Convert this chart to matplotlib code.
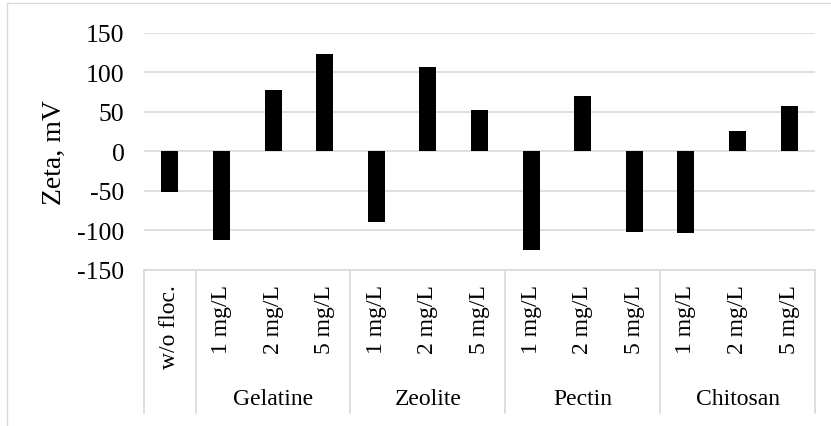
import numpy as np
import matplotlib
matplotlib.use("Agg")
import matplotlib.pyplot as plt
import matplotlib.transforms as mtransforms
from matplotlib.patches import Rectangle

plt.rcParams['font.family'] = ['Liberation Serif', 'DejaVu Serif']
plt.rcParams['axes.unicode_minus'] = False

# data
labels = ['w/o floc.', '1 mg/L', '2 mg/L', '5 mg/L', '1 mg/L', '2 mg/L', '5 mg/L',
          '1 mg/L', '2 mg/L', '5 mg/L', '1 mg/L', '2 mg/L', '5 mg/L']
zeta = [-52, -113, 78, 123, -90, 106, 52, -125, 70, -102, -103, 25, 57]
groups = ['Gelatine', 'Zeolite', 'Pectin', 'Chitosan']
group_start = [1, 4, 7, 10]
group_size = [3, 3, 3, 3]
yticks = [-150, -100, -50, 0, 50, 100, 150]

W, H = 831, 427
fig = plt.figure(figsize=(W / 100, H / 100), dpi=100)

# outer chart border (Excel style), right/bottom run off the image
fig.patches.append(Rectangle((7 / W, -0.05), 1.1, 1.05 - 4 / H, transform=fig.transFigure,
                             fill=False, edgecolor='#d9d9d9', linewidth=1.0))

left, right, top, bot = 144, 815, 33.7, 270.7
ax = fig.add_axes([left / W, 1 - bot / H, (right - left) / W, (bot - top) / H])

x = np.arange(len(zeta))
ax.bar(x, zeta, width=0.33, color='black', zorder=3)

ax.set_xlim(-0.5, len(zeta) - 0.5)
ax.set_ylim(-150, 150)
ax.set_yticks(yticks)
ax.yaxis.grid(True, color='#d9d9d9', linewidth=1.2, zorder=0)
ax.set_xticks([])
ax.tick_params(axis='y', length=0, pad=14, labelsize=18.5)
for s in ax.spines.values():
    s.set_visible(False)
ax.set_ylabel('Zeta, mV', fontsize=20)
ax.yaxis.set_label_coords((67 - left) / (right - left), 0.5)

# multi-level category axis
ah = bot - top
def fy(px):
    return (bot - px) / ah

tr = mtransforms.blended_transform_factory(ax.transData, ax.transAxes)
ax.plot([-0.5, len(zeta) - 0.5], [0, 0], transform=tr, color='#d9d9d9', lw=1.2, clip_on=False)
bounds = [-0.5, 0.5] + [s + n - 0.5 for s, n in zip(group_start, group_size)]
for b in bounds:
    ax.plot([b, b], [0, fy(414)], transform=tr, color='#d9d9d9', lw=1.2, clip_on=False)

for i, lab in enumerate(labels):
    ax.text(i, fy(285), lab, transform=tr, rotation=90, ha='center', va='top', fontsize=17)

for g, s, n in zip(groups, group_start, group_size):
    ax.text(s + (n - 1) / 2, fy(400), g, transform=tr, ha='center', va='center', fontsize=17)

fig.savefig('out.png', dpi=100)
